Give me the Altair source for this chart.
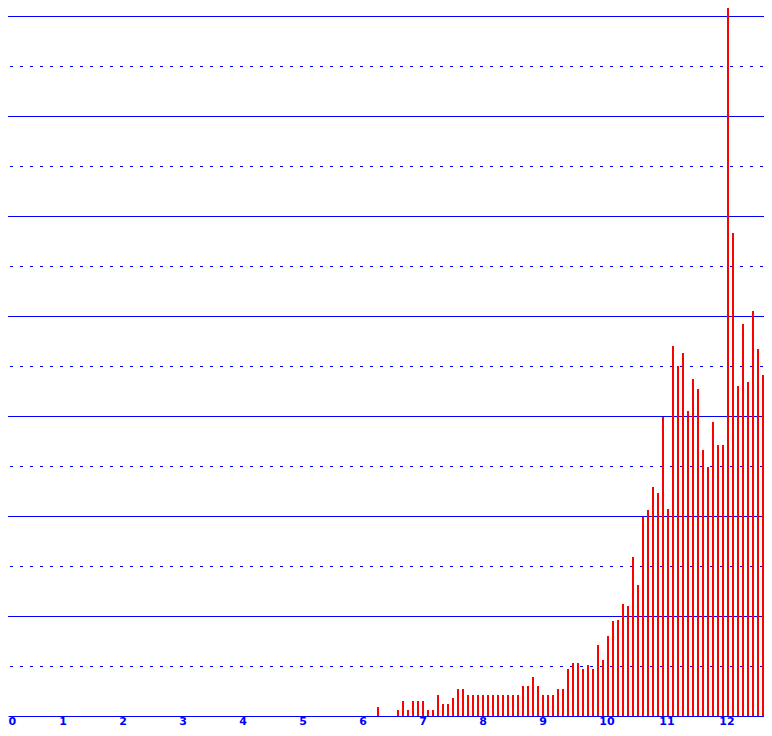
import altair as alt
import pandas as pd

# Bar positions: one bar per 1/12 unit, starting at month index 76 (x = 6.333)
start_month = 76
# Bar heights in grid units (one dashed/solid gridline step = 1)
heights = [
    0.18, 0.00, 0.00, 0.00, 0.12, 0.30, 0.12, 0.30, 0.30, 0.30,
    0.12, 0.12, 0.42, 0.24, 0.24, 0.36, 0.54, 0.54, 0.42, 0.42,
    0.42, 0.42, 0.42, 0.42, 0.42, 0.42, 0.42, 0.42, 0.42, 0.60,
    0.60, 0.78, 0.60, 0.42, 0.42, 0.42, 0.54, 0.54, 0.94, 1.06,
    1.06, 0.94, 1.02, 0.94, 1.42, 1.12, 1.60, 1.90, 1.92, 2.24,
    2.20, 3.18, 2.62, 3.98, 4.12, 4.58, 4.46, 5.98, 4.14, 7.40,
    7.00, 7.26, 6.10, 6.74, 6.54, 5.32, 4.98, 5.88, 5.42, 5.42,
    14.28, 9.66, 6.60, 7.84, 6.68, 8.10, 7.34, 6.82,
]
x_values = [(start_month + i) / 12 for i in range(len(heights))]

tick_values = [0, 1, 2, 3, 4, 5, 6, 7, 8, 9, 10, 11, 12]
solid_levels = [2, 4, 6, 8, 10, 12, 14]
dashed_levels = [1, 3, 5, 7, 9, 11, 13]

bars_df = pd.DataFrame({"x": x_values, "h": heights})
bars_df = bars_df[bars_df["h"] > 0]
solid_df = pd.DataFrame({"level": solid_levels})
dashed_df = pd.DataFrame({"level": dashed_levels})

BLUE = "#0000ff"
RED = "#ff0000"
W = 756
H = 708

x_scale = alt.Scale(domain=[0, 12.6], nice=False, zero=False)
y_scale = alt.Scale(domain=[0, 14.16], nice=False, zero=True)

y_axis_hidden = alt.Axis(labels=False, ticks=False, domain=False, grid=False, title="")

solid = alt.Chart(solid_df).mark_rule(color=BLUE, strokeWidth=1, yOffset=0.5).encode(
    x=alt.value(0),
    x2=alt.value(W),
    y=alt.Y("level:Q", scale=y_scale, axis=y_axis_hidden),
)

dashed = alt.Chart(dashed_df).mark_rule(
    color=BLUE, strokeWidth=1, yOffset=0.5, strokeDash=[3, 7], strokeDashOffset=8
).encode(
    x=alt.value(0),
    x2=alt.value(W),
    y=alt.Y("level:Q", scale=y_scale, axis=y_axis_hidden),
)

bars = alt.Chart(bars_df).mark_rule(color=RED, strokeWidth=2, xOffset=-10).encode(
    x=alt.X(
        "x:Q",
        scale=x_scale,
        axis=alt.Axis(
            values=tick_values,
            title="",
            grid=False,
            ticks=False,
            tickSize=0,
            domain=True,
            domainColor=BLUE,
            domainWidth=1,
            labelColor=BLUE,
            labelFont="DejaVu Sans",
            labelFontWeight="bold",
            labelFontSize=11,
            labelAlign="left",
            labelBaseline="alphabetic",
            labelFlush=False,
            labelOverlap=False,
            labelPadding=8.5,
            labelOffset={"condition": {"test": "datum.value === 0", "value": 0}, "value": -9.2},
        ),
    ),
    y=alt.Y("h:Q", scale=y_scale, axis=y_axis_hidden),
    y2=alt.datum(0),
)

chart = alt.layer(solid, dashed, bars).properties(
    width=W,
    height=H,
    autosize=alt.AutoSizeParams(type="none"),
    padding={"left": 0, "top": 0, "right": 0, "bottom": 12},
    background="white",
).configure_view(stroke="transparent")

chart.save("out.html", embed_options={"renderer": "svg", "actions": False})
